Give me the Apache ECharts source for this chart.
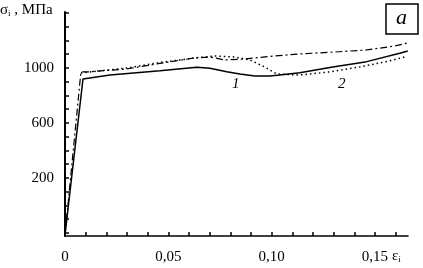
<!DOCTYPE html>
<html><head><meta charset="utf-8">
<script src="https://cdn.jsdelivr.net/npm/echarts@6/dist/echarts.min.js"></script>
<style>html,body{margin:0;padding:0;background:#fff}#c{width:423px;height:268px}</style>
</head><body><div id="c"></div>
<script>
// strain values (ε_i) and stress (σ_i, MPa)
var solidX = [0, 0.0087, 0.0218, 0.0459, 0.0638, 0.0701, 0.0783, 0.0846, 0.0919, 0.0991, 0.104, 0.1136, 0.1296, 0.146, 0.162, 0.1659];
var solidY = [-215, 920, 949, 980, 1005, 998, 973, 956, 942, 942, 949, 966, 1007, 1046, 1107, 1124];
var dashDotX = [0, 0.0077, 0.0106, 0.030, 0.0459, 0.0619, 0.0701, 0.0774, 0.087, 0.0991, 0.1136, 0.1306, 0.146, 0.1596, 0.1659];
var dashDotY = [-215, 971, 971, 993, 1033, 1071, 1080, 1058, 1065, 1084, 1102, 1116, 1131, 1160, 1182];
var dottedX = [0.0077, 0.030, 0.0459, 0.0629, 0.0725, 0.0822, 0.0895, 0.0967, 0.1025, 0.1136, 0.128, 0.1426, 0.157, 0.1644];
var dottedY = [964, 1000, 1040, 1073, 1087, 1080, 1058, 1007, 956, 949, 971, 1007, 1051, 1080];
var yTicks = [-200, -100, 0, 100, 200, 300, 400, 500, 600, 700, 800, 900, 1000, 1100, 1200, 1300, 1400];
var yLabels = [200, 600, 1000];
var xTicks = [0.01, 0.02, 0.03, 0.04, 0.05, 0.06, 0.07, 0.08, 0.09, 0.10, 0.11, 0.12, 0.13, 0.14, 0.15, 0.16];
var xLabels = [0, 0.05, 0.10, 0.15];

function pairs(xs, ys){ return xs.map(function(x,i){ return [x, ys[i]]; }); }
var serif = 'Liberation Serif';
var X_MIN = 0, X_MAX = 0.166, Y_MIN = -222, Y_MAX = 1407;
var chart = echarts.init(document.getElementById('c'), null, {renderer:'canvas'});
chart.setOption({
  animation:false,
  backgroundColor:'#fff',
  grid:{left:65, right:15, top:12, bottom:32},
  xAxis:{
    type:'value', min:X_MIN, max:X_MAX, position:'bottom',
    axisLine:{onZero:false, lineStyle:{color:'#000', width:1.5}},
    axisTick:{show:true, inside:true, length:4, customValues:xTicks, lineStyle:{color:'#000', width:1.5}},
    axisLabel:{customValues:xLabels, margin:14, color:'#000', fontFamily:serif, fontSize:15,
      formatter:function(v){ return v===0 ? '0' : v.toFixed(2).replace('.', ','); }},
    splitLine:{show:false}
  },
  yAxis:{
    type:'value', min:Y_MIN, max:Y_MAX, position:'left',
    axisLine:{onZero:false, lineStyle:{color:'#000', width:2}},
    axisTick:{show:true, inside:true, length:4, customValues:yTicks, lineStyle:{color:'#000', width:1.5}},
    axisLabel:{customValues:yLabels, margin:11, color:'#000', fontFamily:serif, fontSize:15,
      formatter:function(v){ return String(v); }},
    splitLine:{show:false}
  },
  series:[
    {type:'line', data:pairs(solidX, solidY), symbol:'none', smooth:false,
     lineStyle:{color:'#000', width:1.5, type:'solid'}},
    {type:'line', data:pairs(dashDotX, dashDotY), symbol:'none', smooth:false,
     lineStyle:{color:'#000', width:1.2, type:[7,3,2,3]}},
    {type:'line', data:pairs(dottedX, dottedY), symbol:'none', smooth:false,
     lineStyle:{color:'#000', width:1.5, type:[1.5,3]}}
  ],
  graphic:[
    {type:'text', left:0, top:3, style:{text:'{a|σ}{s|i}{a| , МПа}', rich:{
      a:{fontFamily:serif, fontSize:15, fill:'#000'},
      s:{fontFamily:serif, fontSize:9, fill:'#000', padding:[6,0,0,0]}}}},
    {type:'text', left:392, top:249, style:{text:'{a|ε}{s|i}', rich:{
      a:{fontFamily:serif, fontSize:15, fill:'#000'},
      s:{fontFamily:serif, fontSize:9, fill:'#000', padding:[6,0,0,0]}}}},
    {type:'text', left:232, top:77, style:{text:'1', fontFamily:serif, fontStyle:'italic', fontSize:15, fill:'#000'}},
    {type:'text', left:338, top:77, style:{text:'2', fontFamily:serif, fontStyle:'italic', fontSize:15, fill:'#000'}},
    {type:'rect', shape:{x:386, y:4, width:32, height:30}, style:{fill:'#fff', stroke:'#000', lineWidth:1.5}},
    {type:'text', left:396, top:7, style:{text:'a', fontFamily:serif, fontStyle:'italic', fontSize:22, fill:'#000'}}
  ]
});
</script></body></html>
